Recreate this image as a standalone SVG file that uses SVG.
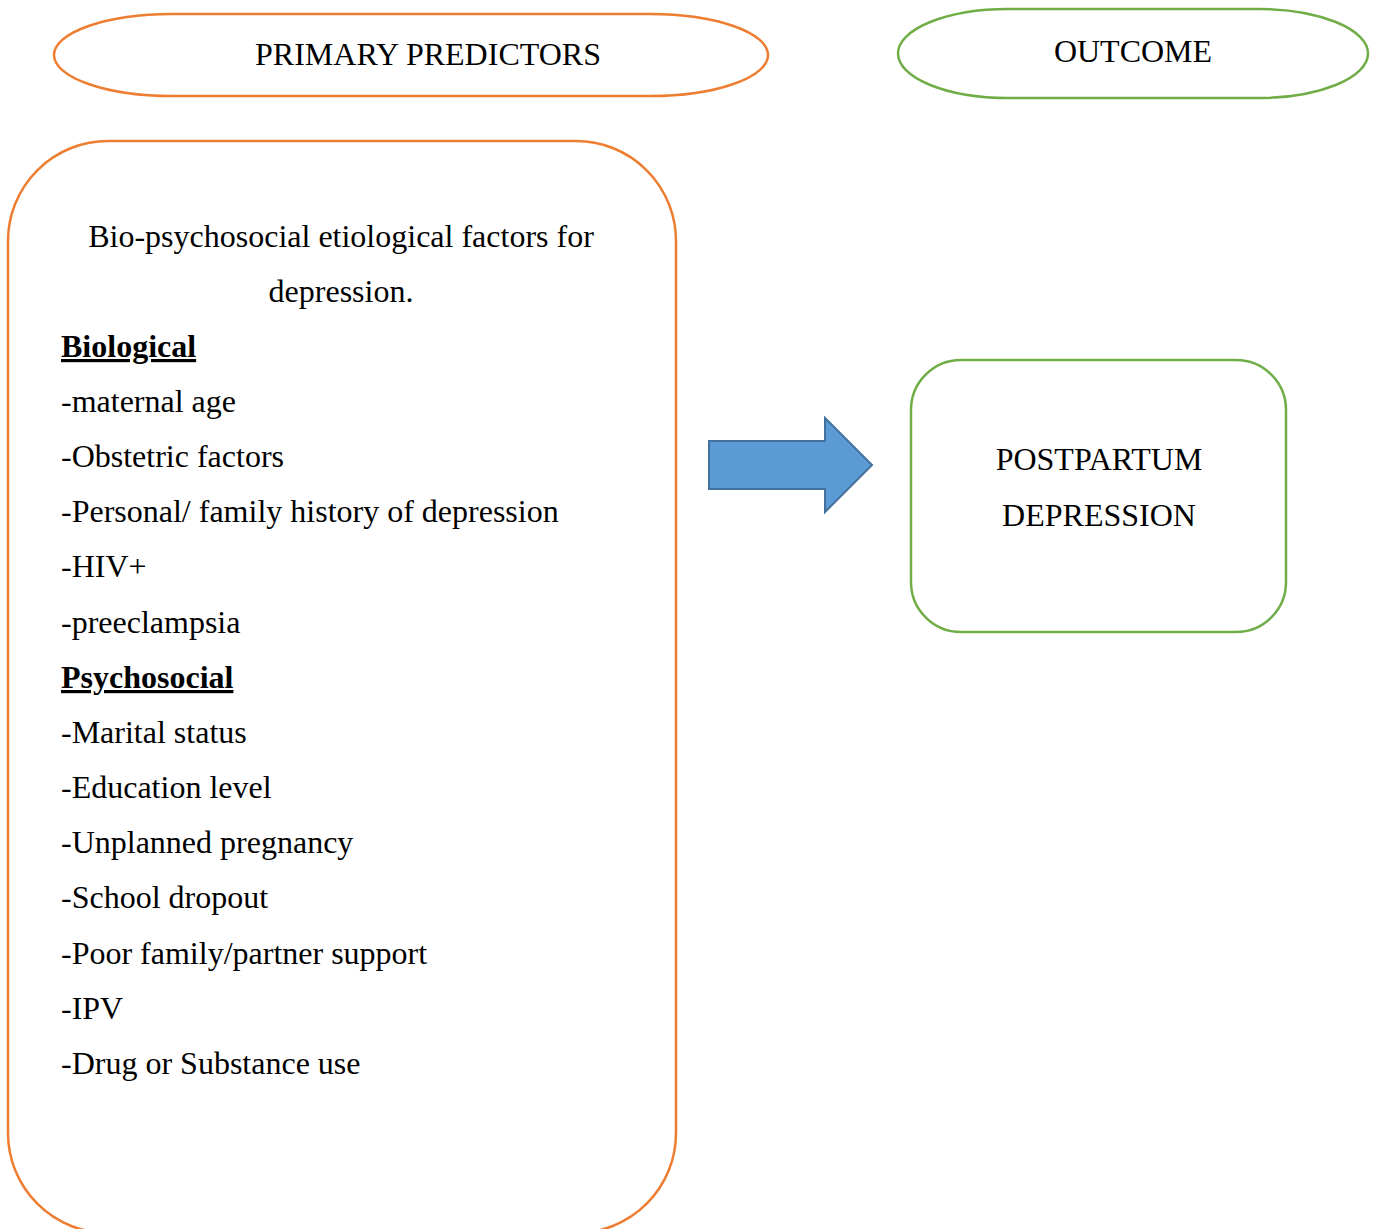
<svg xmlns="http://www.w3.org/2000/svg" width="1376" height="1229" viewBox="0 0 1376 1229">
<style>
.t{font-family:"Liberation Serif","Times New Roman",serif;font-size:32px;fill:#000}
.c{text-anchor:middle}
.h{font-weight:bold;text-decoration:underline}
.o{fill:#fff;stroke:#ED7D31;stroke-width:2.5}
.g{fill:#fff;stroke:#70AD47;stroke-width:2.5}
</style>
<rect width="1376" height="1229" fill="#fff"/>
<g id="primary-predictors">
<rect class="o" x="54" y="14" width="714" height="82" rx="118" ry="41"/>
<text class="t c" x="428" y="65">PRIMARY PREDICTORS</text>
</g>
<g id="outcome">
<rect class="g" x="898" y="9" width="470" height="89" rx="110" ry="44.5"/>
<text class="t c" x="1133" y="62">OUTCOME</text>
</g>
<g id="factors">
<rect class="o" x="8" y="141" width="668" height="1092" rx="100" ry="100"/>
<text class="t c" x="341" y="247">Bio-psychosocial etiological factors for</text>
<text class="t c" x="341" y="302">depression.</text>
<text class="t h" x="61" y="357">Biological</text>
<text class="t" x="61" y="412">-maternal age</text>
<text class="t" x="61" y="467">-Obstetric factors</text>
<text class="t" x="61" y="522">-Personal/ family history of depression</text>
<text class="t" x="61" y="577">-HIV+</text>
<text class="t" x="61" y="633">-preeclampsia</text>
<text class="t h" x="61" y="688">Psychosocial</text>
<text class="t" x="61" y="743">-Marital status</text>
<text class="t" x="61" y="798">-Education level</text>
<text class="t" x="61" y="853">-Unplanned pregnancy</text>
<text class="t" x="61" y="908">-School dropout</text>
<text class="t" x="61" y="964">-Poor family/partner support</text>
<text class="t" x="61" y="1019">-IPV</text>
<text class="t" x="61" y="1074">-Drug or Substance use</text>
</g>
<g id="postpartum-depression">
<rect class="g" x="911" y="360" width="375" height="272" rx="50" ry="50"/>
<text class="t c" x="1099" y="470">POSTPARTUM</text>
<text class="t c" x="1099" y="526">DEPRESSION</text>
</g>
<g id="connectors">
<path d="M709,441 L825,441 L825,418 L872,465 L825,512 L825,489 L709,489 Z" fill="#5B9BD5" stroke="#41719C" stroke-width="2"/>
</g>
</svg>
